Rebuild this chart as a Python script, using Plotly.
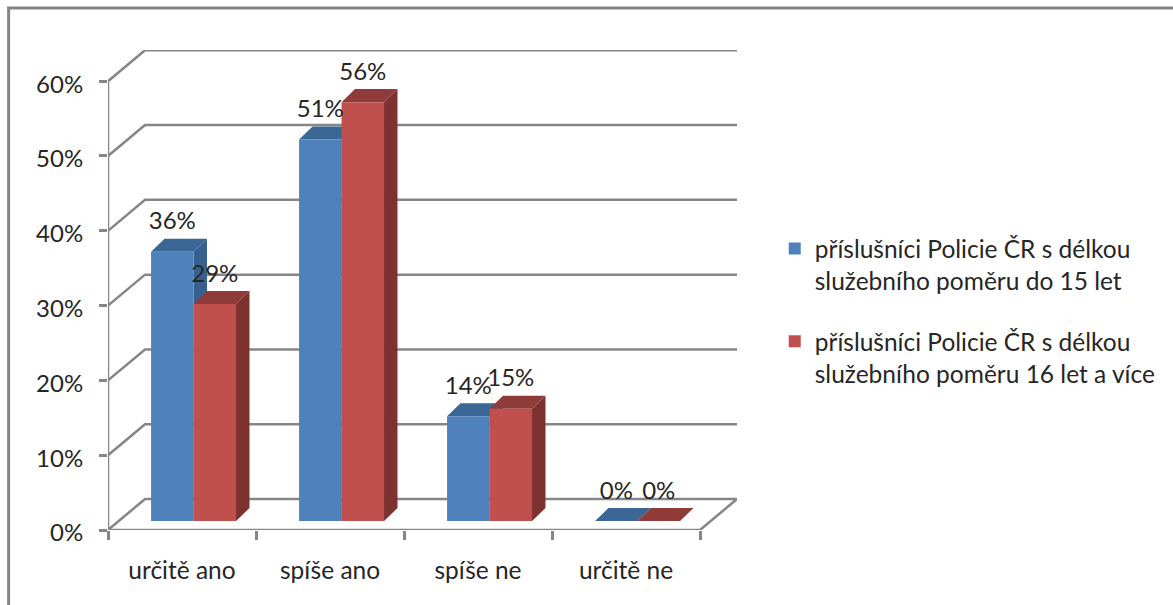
import plotly.graph_objects as go

categories = ["určitě ano", "spíše ano", "spíše ne", "určitě ne"]
series_a_name = "příslušníci Policie ČR s délkou<br>služebního poměru do 15 let"
series_b_name = "příslušníci Policie ČR s délkou<br>služebního poměru 16 let a více"
series_a = [36, 51, 14, 0]
series_b = [29, 56, 15, 0]
y_ticks = [0, 10, 20, 30, 40, 50, 60]

FONT = "Lato"
GREY = "#868686"
TEXT = "#262626"
# 3D look, expressed in axis units
WALL_DX, WALL_DY = 0.25, 4.14
BAR_DX, BAR_DY = 0.091, 1.74
BAR_W = 0.287
BAR_BASE = 1.2
GROUP_C = 0.578
N = len(categories)
X_RANGE = [0, 4.25]
Y_RANGE = [0, 64.17]


def faces(values, offset):
    sx, sy, tx, ty = [], [], [], []
    for i, v in enumerate(values):
        xl = i + GROUP_C + offset
        xr = xl + BAR_W
        top = BAR_BASE + v
        sx += [xr, xr + BAR_DX, xr + BAR_DX, xr, None]
        sy += [BAR_BASE, BAR_BASE + BAR_DY, top + BAR_DY, top, None]
        tx += [xl, xl + BAR_DX, xr + BAR_DX, xr, None]
        ty += [top, top + BAR_DY, top + BAR_DY, top, None]
    return sx, sy, tx, ty


def poly(x, y, color):
    return go.Scatter(x=x, y=y, mode="lines", fill="toself", fillcolor=color,
                      line=dict(width=0, color=color), hoverinfo="skip",
                      showlegend=False, xaxis="x", yaxis="y")


fig = go.Figure()

# walls: gridlines on the left wall and the back wall, and the floor outline
gx, gy = [], []
for t in y_ticks:
    gx += [0, WALL_DX, N + WALL_DX, None]
    gy += [t, t + WALL_DY, t + WALL_DY, None]
gx += [0, 0, None, 0, N, N + WALL_DX, None]
gy += [0, y_ticks[-1], None, 0, 0, WALL_DY, None]
fig.add_trace(go.Scatter(x=gx, y=gy, mode="lines", line=dict(color=GREY, width=2.5),
                         hoverinfo="skip", showlegend=False, xaxis="x", yaxis="y"))

# side and top faces of the bars
sx, sy, tx, ty = faces(series_a, -BAR_W)
fig.add_trace(poly(sx, sy, "#38608F"))
fig.add_trace(poly(tx, ty, "#3B6796"))
sx, sy, tx, ty = faces(series_b, 0)
fig.add_trace(poly(sx, sy, "#7D3230"))
fig.add_trace(poly(tx, ty, "#8F3B39"))

# front faces on an overlaid subplot so they sit above the depth faces
bar_x = [i + GROUP_C for i in range(N)]
fig.add_trace(go.Bar(x=bar_x, y=series_a, base=BAR_BASE, width=BAR_W, offset=-BAR_W,
                     marker=dict(color="#4F81BD", line=dict(width=0)), name=series_a_name,
                     legendgroup="a", xaxis="x2", yaxis="y2"))
fig.add_trace(go.Bar(x=bar_x, y=series_b, base=BAR_BASE, width=BAR_W, offset=0,
                     marker=dict(color="#C0504D", line=dict(width=0)), name=series_b_name,
                     legendgroup="b", xaxis="x2", yaxis="y2"))

# data labels
LABEL_UP = 3.8
lx = [i + GROUP_C - BAR_W / 2 for i in range(N)] + [i + GROUP_C + BAR_W / 2 for i in range(N)]
vals = series_a + series_b
fig.add_trace(go.Scatter(x=lx, y=[BAR_BASE + v + LABEL_UP for v in vals], mode="text",
                         text=[f"{v}%" for v in vals], textposition="middle center",
                         textfont=dict(family=FONT, size=24, color=TEXT),
                         hoverinfo="skip", showlegend=False, xaxis="x2", yaxis="y2"))

fig.update_layout(
    width=1173, height=605, autosize=False,
    margin=dict(l=108, r=436, t=50, b=75, pad=0),
    paper_bgcolor="white", plot_bgcolor="white",
    barmode="overlay",
    font=dict(family=FONT, size=24, color=TEXT),
    xaxis=dict(range=X_RANGE, tickvals=list(range(N + 1)), ticktext=[""] * (N + 1),
               ticks="outside", ticklen=9, tickwidth=2.5, tickcolor=GREY,
               showgrid=False, zeroline=False, showline=False),
    yaxis=dict(range=Y_RANGE, tickvals=y_ticks, ticktext=[f"{t}%" for t in y_ticks],
               ticks="outside", ticklen=8, tickwidth=2.5, tickcolor=GREY,
               ticklabelstandoff=11, ticklabelshift=3,
               showgrid=False, zeroline=False, showline=False,
               tickfont=dict(family=FONT, size=24, color=TEXT)),
    xaxis2=dict(range=X_RANGE, overlaying="x", anchor="y2",
                tickvals=[i + 0.5 for i in range(N)], ticktext=categories,
                ticks="outside", ticklen=19, tickwidth=0, tickcolor="rgba(0,0,0,0)",
                showgrid=False, zeroline=False, showline=False,
                tickfont=dict(family=FONT, size=24.5, color=TEXT)),
    yaxis2=dict(range=Y_RANGE, overlaying="y", anchor="x2", visible=False),
    legend=dict(x=1.06, y=0.633, xanchor="left", yanchor="top", traceorder="grouped",
                bgcolor="rgba(0,0,0,0)", tracegroupgap=26, valign="top",
                font=dict(family=FONT, size=24.5, color=TEXT)),
    shapes=[dict(type="rect", xref="paper", yref="paper", x0=-0.158, x1=1.8, y0=-0.3, y1=1.0875,
                 line=dict(color=GREY, width=3), fillcolor="rgba(0,0,0,0)", layer="below")],
)

fig.write_html("out.html", post_script="document.body.style.margin='0';",
               config=dict(displayModeBar=False))
